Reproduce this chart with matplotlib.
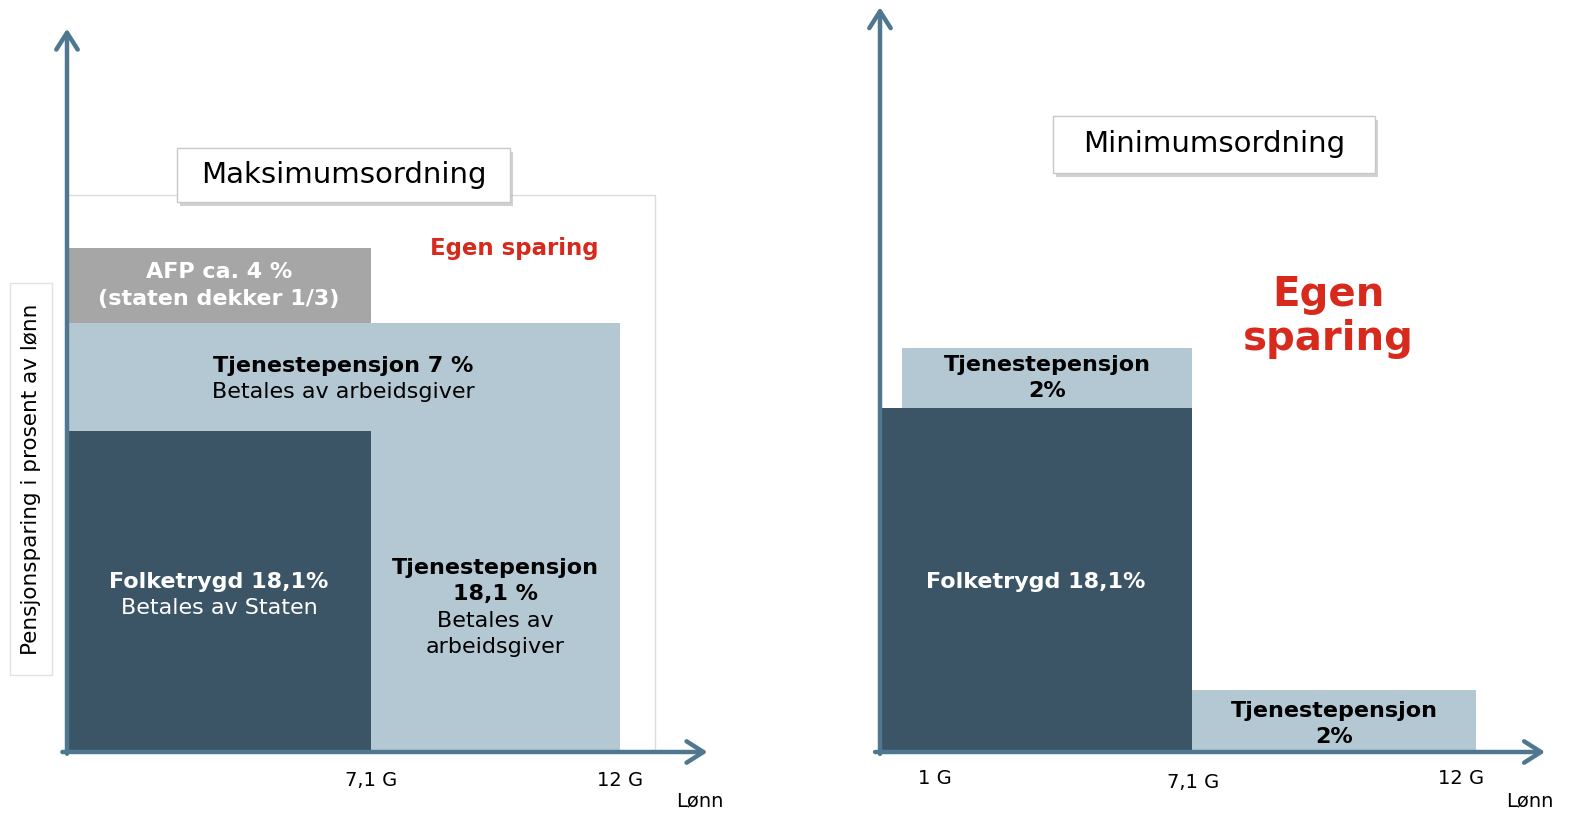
import matplotlib
matplotlib.use("Agg")
import matplotlib.pyplot as plt
from matplotlib.patches import Rectangle
from matplotlib.transforms import offset_copy

W, H = 1582, 817

# colours
DARK = "#3b5566"
LIGHT = "#b4c8d4"
GREY = "#a6a6a6"
RED = "#d8291d"
AXIS = "#4f7890"

# --- Maksimumsordning (left): schematic wage positions, drawn heights in %
max_ticks = [6.6, 12.0]
max_tick_labels = ["7,1 G", "12 G"]
max_folketrygd = 18.1      # 0 .. 7,1 G
max_tjeneste_top = 24.2    # top of tjenestepensjon band, 0 .. 12 G
max_afp = 4.2              # AFP band on top, 0 .. 7,1 G
max_frame = [12.76, 31.4]  # "egen sparing" frame

# --- Minimumsordning (right)
min_ticks = [1.1, 6.3, 11.7]
min_tick_labels = ["1 G", "7,1 G", "12 G"]
min_edges = [0.44, 6.28, 12.0]
min_folketrygd = 18.1
min_tjeneste_top = 3.16    # band above folketrygd, 1 G .. 7,1 G
min_tjeneste_low = 3.26    # band from 7,1 G .. 12 G

fig = plt.figure(figsize=(W / 100, H / 100), dpi=100)
plt.rcParams['font.family'] = ['DejaVu Sans']


def make_axes(x0, y0, x1, y1, px_x, px_y):
    # axes whose data origin sits at pixel (x0, y0)
    ax = fig.add_axes([x0 / W, (H - y0) / H, (x1 - x0) / W, (y0 - y1) / H])
    ax.set_xlim(0, (x1 - x0) / px_x)
    ax.set_ylim(0, (y0 - y1) / px_y)
    ax.axis("off")
    return ax


def arrows(ax, xtip, ytip):
    props = dict(arrowstyle="->,head_length=0.55,head_width=0.35", lw=3.2,
                 color=AXIS, mutation_scale=22, shrinkA=0, shrinkB=0)
    ax.annotate("", xy=(0, ytip), xytext=(0, -0.1), arrowprops=props, annotation_clip=False)
    ax.annotate("", xy=(xtip, 0), xytext=(-0.1, 0), arrowprops=props, annotation_clip=False)


def title_box(ax, x0, x1, y0, y1, label):
    shadow_tr = offset_copy(ax.transData, fig=fig, x=3, y=-4, units="dots")
    ax.add_patch(Rectangle((x0, y0), x1 - x0, y1 - y0, facecolor="#9a9a9a", alpha=0.45,
                           edgecolor="none", transform=shadow_tr, zorder=4, clip_on=False))
    ax.add_patch(Rectangle((x0, y0), x1 - x0, y1 - y0, facecolor="white",
                           edgecolor="#c8c8c8", lw=1, zorder=5, clip_on=False))
    ax.text((x0 + x1) / 2, (y0 + y1) / 2, label, ha="center", va="center",
            fontsize=21, color="black", zorder=6)


txt = dict(ha="center", va="center", clip_on=False, zorder=6)

# ---------------- left panel
ax1 = make_axes(67, 752, 707, 22, 46.08, 17.73)
ax1.add_patch(Rectangle((0, 0), max_frame[0], max_frame[1], facecolor="none",
                        edgecolor="#dcdcdc", lw=1, zorder=1))
ax1.bar(0, max_tjeneste_top, width=max_ticks[1], align="edge", color=LIGHT, zorder=2)
ax1.bar(0, max_folketrygd, width=max_ticks[0], align="edge", color=DARK, zorder=3)
ax1.bar(0, max_afp, width=max_ticks[0], bottom=max_tjeneste_top, align="edge", color=GREY, zorder=3)
arrows(ax1, 13.9, 40.8)

ax1.text(max_ticks[0] / 2, max_tjeneste_top + max_afp / 2, "AFP ca. 4 %\n(staten dekker 1/3)",
         color="white", fontsize=16, fontweight="bold", linespacing=1.45, **txt)
ax1.text(6.0, 21.77, "Tjenestepensjon 7 %", fontsize=16, fontweight="bold", **txt)
ax1.text(6.0, 20.3, "Betales av arbeidsgiver", fontsize=16, **txt)
ax1.text(max_ticks[0] / 2, 9.59, "Folketrygd 18,1%", color="white", fontsize=16,
         fontweight="bold", **txt)
ax1.text(max_ticks[0] / 2, 8.12, "Betales av Staten", color="white", fontsize=16, **txt)
xm = (max_ticks[0] + max_ticks[1]) / 2
ax1.text(xm, 9.62, "Tjenestepensjon\n18,1 %", fontsize=16, fontweight="bold",
         linespacing=1.38, **txt)
ax1.text(xm, 6.63, "Betales av\narbeidsgiver", fontsize=16, linespacing=1.38, **txt)
ax1.text(9.7, 28.4, "Egen sparing", color=RED, fontsize=16.5, fontweight="bold", **txt)
for x, lab in zip(max_ticks, max_tick_labels):
    ax1.text(x, -1.58, lab, fontsize=14, **txt)
ax1.text(13.74, -2.75, "Lønn", fontsize=14, **txt)
title_box(ax1, 2.39, 9.61, 31.0, 34.07, "Maksimumsordning")

# ---------------- right panel
ax2 = make_axes(880, 752, 1548, 7, 49.67, 19.0)
ax2.bar(0, min_folketrygd, width=min_edges[1], align="edge", color=DARK, zorder=3)
ax2.bar(min_edges[0], min_tjeneste_top, width=min_edges[1] - min_edges[0],
        bottom=min_folketrygd, align="edge", color=LIGHT, zorder=3)
ax2.bar(min_edges[1], min_tjeneste_low, width=min_edges[2] - min_edges[1],
        align="edge", color=LIGHT, zorder=3)
arrows(ax2, 13.39, 39.2)

ax2.text((min_edges[0] + min_edges[1]) / 2, min_folketrygd + min_tjeneste_top / 2,
         "Tjenestepensjon\n2%", fontsize=16, fontweight="bold", linespacing=1.35, **txt)
ax2.text((min_edges[1] + min_edges[2]) / 2, 1.47, "Tjenestepensjon\n2%", fontsize=16,
         fontweight="bold", linespacing=1.35, **txt)
ax2.text(min_edges[1] / 2, 8.95, "Folketrygd 18,1%", color="white", fontsize=16,
         fontweight="bold", **txt)
ax2.text(9.02, 22.9, "Egen\nsparing", color=RED, fontsize=29, fontweight="bold",
         linespacing=1.15, **txt)
for x, lab, y in zip(min_ticks, min_tick_labels, [-1.37, -1.63, -1.37]):
    ax2.text(x, y, lab, fontsize=14, **txt)
ax2.text(13.09, -2.55, "Lønn", fontsize=14, **txt)
title_box(ax2, 3.48, 9.97, 30.5, 33.45, "Minimumsordning")

# ---------------- y label box
fig.patches.append(Rectangle((10 / W, 1 - 675 / H), 42 / W, 392 / H, transform=fig.transFigure,
                             facecolor="white", edgecolor="#e2e2e2", lw=1, zorder=0))
fig.text(31 / W, 1 - 479 / H, "Pensjonsparing i prosent av lønn", rotation=90,
         ha="center", va="center", fontsize=15.5, color="black")

fig.savefig("out.png", dpi=100)
